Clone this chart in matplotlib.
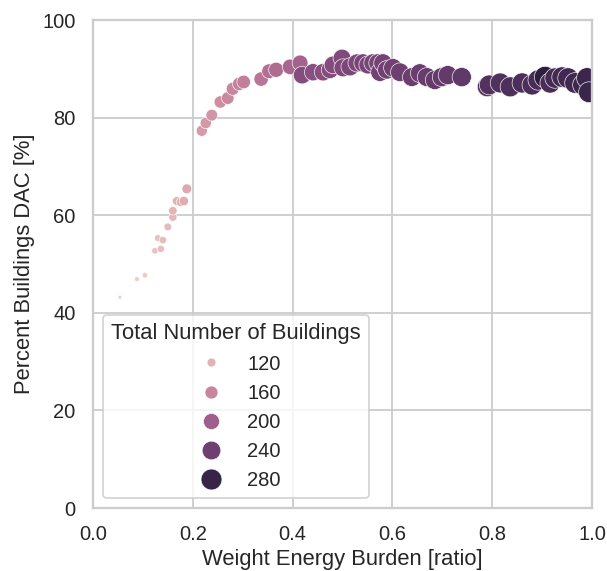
import matplotlib
matplotlib.use("Agg")
import matplotlib.pyplot as plt
import pandas as pd
import seaborn as sns

# values
weight = [0.054, 0.088, 0.104, 0.124, 0.130, 0.136, 0.140, 0.150, 0.160, 0.160,
          0.168, 0.176, 0.182, 0.188, 0.218, 0.226, 0.238, 0.255, 0.270, 0.280,
          0.293, 0.302, 0.337, 0.353, 0.367, 0.395, 0.415, 0.419, 0.441, 0.461,
          0.475, 0.481, 0.499, 0.501, 0.515, 0.529, 0.541, 0.551, 0.561, 0.571,
          0.575, 0.581, 0.589, 0.601, 0.615, 0.639, 0.655, 0.669, 0.685, 0.699,
          0.711, 0.739, 0.790, 0.794, 0.816, 0.836, 0.860, 0.880, 0.892, 0.906,
          0.916, 0.926, 0.940, 0.952, 0.966, 0.982, 0.990, 0.994]
percent_dac = [43.2, 46.9, 47.7, 52.7, 55.3, 53.1, 54.9, 57.6, 59.6, 60.9,
               62.9, 62.7, 62.9, 65.4, 77.3, 78.9, 80.5, 83.2, 84.0, 85.9,
               86.9, 87.3, 87.9, 89.5, 89.8, 90.4, 91.2, 88.7, 89.3, 89.3,
               89.8, 90.8, 92.2, 90.2, 90.4, 91.2, 91.2, 90.8, 91.2, 91.2,
               89.3, 91.2, 89.8, 90.2, 89.3, 88.3, 89.1, 88.3, 87.7, 88.3,
               88.7, 88.3, 86.3, 86.7, 87.1, 86.3, 87.1, 86.7, 87.7, 88.3,
               87.1, 88.1, 88.3, 88.1, 87.1, 86.7, 88.1, 85.2]
n_buildings = [92, 96, 98, 104, 106, 108, 110, 112, 115, 117,
               120, 122, 124, 128, 140, 142, 146, 152, 156, 160,
               164, 167, 177, 182, 186, 192, 196, 222, 218, 220,
               222, 224, 226, 228, 230, 229, 232, 231, 232, 233,
               236, 234, 238, 238, 240, 242, 243, 245, 246, 247,
               248, 250, 258, 260, 262, 263, 265, 266, 268, 290,
               268, 270, 272, 273, 274, 276, 277, 278]

df = pd.DataFrame({"Weight Energy Burden [ratio]": weight,
                   "Percent Buildings DAC [%]": percent_dac,
                   "Total Number of Buildings": n_buildings})

sns.set_theme(style="whitegrid")
plt.rcParams["font.family"] = ["Liberation Sans", "DejaVu Sans"]

DPI = 132
fig = plt.figure(figsize=(607 / DPI, 571 / DPI), dpi=DPI)
ax = fig.add_axes([93 / 607, 63 / 571, 499 / 607, 488 / 571])

sns.scatterplot(data=df, x="Weight Energy Burden [ratio]", y="Percent Buildings DAC [%]",
                hue="Total Number of Buildings", size="Total Number of Buildings",
                sizes=(4.7, 137), ax=ax)

ax.set_xlim(0, 1)
ax.set_ylim(0, 100)
ax.xaxis.labelpad = 2.5
sns.move_legend(ax, "lower left")

fig.savefig("out.png", dpi=DPI)
